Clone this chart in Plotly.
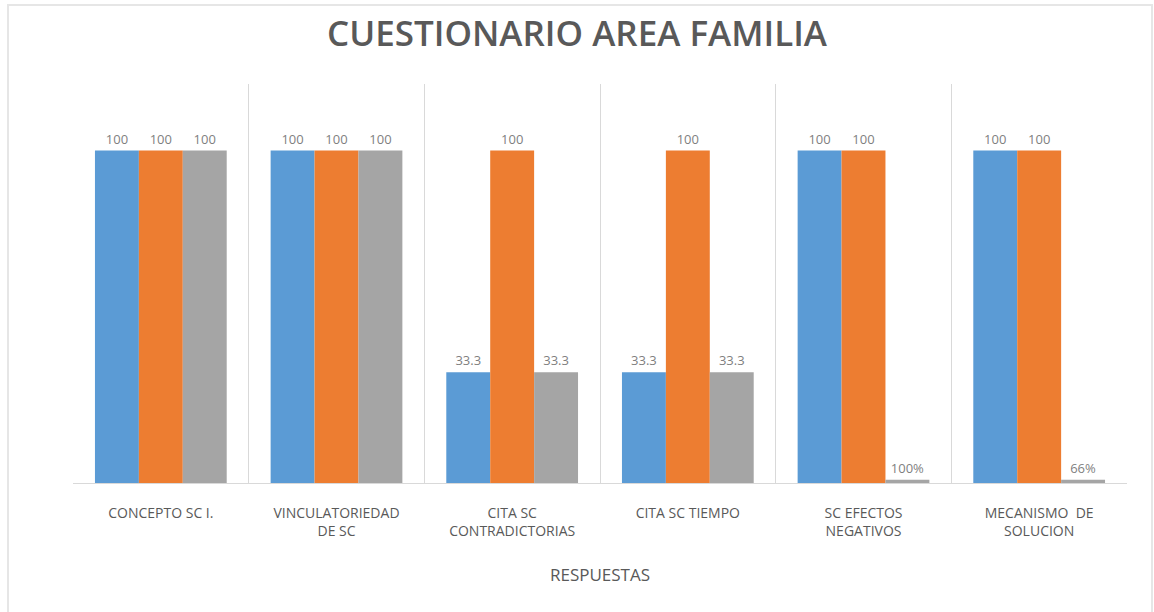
import plotly.graph_objects as go

categories = ["CONCEPTO SC I.", "VINCULATORIEDAD<br>DE SC", "CITA SC<br>CONTRADICTORIAS",
              "CITA SC TIEMPO", "SC EFECTOS<br>NEGATIVOS", "MECANISMO  DE<br>SOLUCION"]
serie1 = [100, 100, 33.3, 33.3, 100, 100]
serie2 = [100, 100, 100, 100, 100, 100]
serie3 = [100, 100, 33.3, 33.3, 1, 1]
labels1 = ["100", "100", "33.3", "33.3", "100", "100"]
labels2 = ["100", "100", "100", "100", "100", "100"]
labels3 = ["100", "100", "33.3", "33.3", "100%", "66%"]

colors = ["#5b9bd5", "#ed7d31", "#a5a5a5"]
label_font = dict(family="Open Sans, Noto Sans, sans-serif", size=13, color="#7f7f7f")

fig = go.Figure()
for vals, txt, col in zip([serie1, serie2, serie3], [labels1, labels2, labels3], colors):
    fig.add_trace(go.Bar(
        x=categories, y=vals, text=txt, textposition="outside",
        textfont=label_font, cliponaxis=False,
        marker=dict(color=col, line=dict(width=0)),
    ))

fig.update_layout(
    width=1154, height=612,
    paper_bgcolor="white", plot_bgcolor="white",
    margin=dict(l=73, r=27, t=84, b=129),
    barmode="group", bargap=0.25, bargroupgap=0,
    showlegend=False,
    title=dict(text="CUESTIONARIO AREA FAMILIA", x=0.5, xanchor="center",
               y=0.945, yanchor="middle",
               font=dict(family="Open Sans, sans-serif", size=35, color="#595959", weight=600)),
    xaxis=dict(
        type="category", tickson="boundaries", showgrid=True, gridcolor="#d9d9d9", gridwidth=1,
        showline=True, linecolor="#d9d9d9", linewidth=1, ticks="",
        ticklabelstandoff=17,
        tickfont=dict(family="Open Sans, Noto Sans, sans-serif", size=14, color="#595959"),
        title=dict(text="RESPUESTAS", standoff=30,
                   font=dict(family="Open Sans, Noto Sans, sans-serif", size=17, color="#595959")),
    ),
    yaxis=dict(range=[0, 120], showgrid=False, showticklabels=False, zeroline=False, showline=False),
    shapes=[dict(type="rect", xref="paper", yref="paper",
                 x0=(8 - 73) / 1054, x1=(1152 - 73) / 1054,
                 y0=(483 - 615) / 399, y1=(483 - 5) / 399,
                 line=dict(color="#e6e6e6", width=2), fillcolor="rgba(0,0,0,0)", layer="below")],
)

fig.write_html("out.html", config={"displayModeBar": False},
               post_script="document.body.style.margin='0';")
